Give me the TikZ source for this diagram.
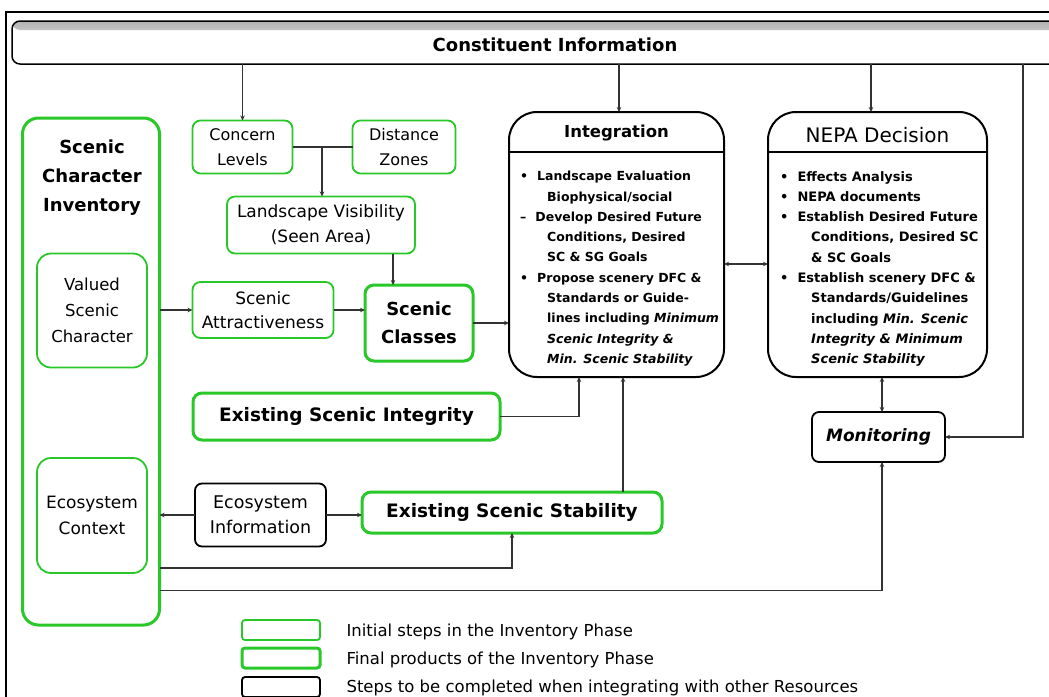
\documentclass[tikz,border=0pt]{standalone}
\usepackage{fontspec}
\setmainfont{DejaVu Sans}
\usetikzlibrary{arrows.meta}
\definecolor{grn}{RGB}{40,200,40}
\tikzset{
 base/.style={fill=white, align=center, inner sep=0pt, outer sep=0pt},
 initbox/.style={base, draw=grn, line width=1.8pt, rounded corners=8pt},
 finalbox/.style={base, draw=grn, line width=3pt, rounded corners=9pt},
 otherbox/.style={base, draw=black, line width=1.8pt, rounded corners=7pt},
 bigbox/.style={base, draw=black, line width=2pt, rounded corners=28pt},
 conn/.style={draw=black!80, line width=1.2pt},
 arr/.style={conn, -{Stealth[length=5pt,width=4.5pt]}},
 arrtwo/.style={conn, {Stealth[length=5pt,width=4.5pt]}-{Stealth[length=5pt,width=4.5pt]}},
 fs/.style={font=\fontsize{#1}{\dimexpr#1pt*5/4\relax}\selectfont},
 fsb/.style={font=\bfseries\fontsize{#1}{\dimexpr#1pt*5/4\relax}\selectfont},
}
\begin{document}
\begin{tikzpicture}[x=1pt,y=-1pt]
\clip (0,0) rectangle (1049,696);
\fill[white] (0,0) rectangle (1049,696);
% outer frame
\draw[line width=2.5pt] (6,720) -- (6,12) -- (1100,12);

% Constituent information
\node[base, draw=black, line width=1.5pt, rounded corners=8pt, minimum width=1048pt, minimum height=43pt,
  path picture={\shade[top color=black!30, bottom color=white] (path picture bounding box.north west) rectangle ([yshift=-9pt]path picture bounding box.north east);},
  anchor=north west] (ci) at (12,21) {};
\node[fsb=18] (citext) at (555,45) {Constituent Information};

% Inventory
\node[finalbox, rounded corners=16pt, minimum width=137pt, minimum height=507pt] (inv) at (91,371.5) {};
\node[align=center, font=\bfseries\fontsize{18}{29}\selectfont] (invtitle) at (92,178) {Scenic\\Character\\Inventory};
\node[initbox, rounded corners=14pt, minimum width=110pt, minimum height=114pt, font=\fontsize{16.5}{26}\selectfont] (vsc) at (92,310.5) {Valued\\Scenic\\Character};
\node[initbox, rounded corners=14pt, minimum width=110pt, minimum height=115pt, font=\fontsize{17}{26}\selectfont] (ec) at (92,515.5) {Ecosystem\\Context};

% upper left boxes
\node[initbox, minimum width=100pt, minimum height=53pt, font=\fontsize{16}{25}\selectfont] (cl) at (242.5,147) {Concern\\Levels};
\node[initbox, minimum width=103pt, minimum height=53pt, font=\fontsize{16}{25}\selectfont] (dz) at (404,147) {Distance\\Zones};
\node[initbox, minimum width=188pt, minimum height=57pt, font=\fontsize{17}{25}\selectfont] (lv) at (321,225) {Landscape Visibility\\(Seen Area)};
\node[initbox, minimum width=141pt, minimum height=56pt, font=\fontsize{17}{24}\selectfont] (sa) at (263,310) {Scenic\\Attractiveness};
\node[finalbox, minimum width=108pt, minimum height=76pt, font=\bfseries\fontsize{18}{28}\selectfont] (sc) at (419,323) {Scenic\\Classes};

\node[finalbox, minimum width=307pt, minimum height=47pt, fsb=18.5] (esi) at (346.5,416.5) {Existing Scenic Integrity};
\node[otherbox, minimum width=131pt, minimum height=63pt, font=\fontsize{17.5}{25}\selectfont] (ei) at (260.5,515) {Ecosystem\\Information};
\node[finalbox, minimum width=300pt, minimum height=41pt, fsb=18.5] (ess) at (512,512.5) {Existing Scenic Stability};

% Integration
\node[bigbox, minimum width=215pt, minimum height=265pt] (int) at (616.5,244.5) {};
\draw[line width=2pt] (int.west |- 0,152) -- (int.east |- 0,152);
\node[fsb=16.5] (inttitle) at (616.5,133) {Integration};
\node[anchor=north west, align=left, inner sep=0pt, font=\bfseries\fontsize{12.5}{20.3}\selectfont] (inttext) at (520,171) {%
•\hspace{9pt}Landscape Evaluation\\
\hspace*{27pt}Biophysical/social\\
–\hspace{9pt}Develop Desired Future\\
\hspace*{27pt}Conditions, Desired\\
\hspace*{27pt}SC \& SG Goals\\
•\hspace{9pt}Propose scenery DFC \&\\
\hspace*{27pt}Standards or Guide-\\
\hspace*{27pt}lines including \textit{Minimum}\\
\hspace*{27pt}\textit{Scenic Integrity \&}\\
\hspace*{27pt}\textit{Min. Scenic Stability}};

% NEPA
\node[bigbox, minimum width=219pt, minimum height=265pt] (nepa) at (877.5,244.5) {};
\draw[line width=2pt] (nepa.west |- 0,152) -- (nepa.east |- 0,152);
\node[fs=20] (nepatitle) at (877.5,135) {NEPA Decision};
\node[anchor=north west, align=left, inner sep=0pt, font=\bfseries\fontsize{13}{20.3}\selectfont] (nepatext) at (780,171) {%
•\hspace{9pt}Effects Analysis\\
•\hspace{9pt}NEPA documents\\
•\hspace{9pt}Establish Desired Future\\
\hspace*{31pt}Conditions, Desired SC\\
\hspace*{31pt}\& SC Goals\\
•\hspace{9pt}Establish scenery DFC \&\\
\hspace*{31pt}Standards/Guidelines\\
\hspace*{31pt}including \textit{Min. Scenic}\\
\hspace*{31pt}\textit{Integrity \& Minimum}\\
\hspace*{31pt}\textit{Scenic Stability}};

% Monitoring
\node[otherbox, minimum width=133pt, minimum height=50pt, font=\bfseries\itshape\fontsize{17}{20}\selectfont] (mon) at (878.5,437) {Monitoring};

% connectors from constituent info
\draw[arr] (cl.north |- ci.south) -- (cl.north);
\draw[arr] ([xshift=2.5pt]int.north |- ci.south) -- ([xshift=2.5pt]int.north);
\draw[arr] ([xshift=-6.5pt]nepa.north |- ci.south) -- ([xshift=-6.5pt]nepa.north);
\coordinate (rr) at (1023,64);
\draw[arr] (rr) -- (rr |- mon.east) -- (mon.east);

% upper left
\draw[conn] (cl.east) -- (dz.west);
\coordinate (jn) at (322,147);
\draw[arr] (jn) -- (jn |- lv.north);
\draw[arr] ([xshift=72pt]lv.south) -- ([xshift=72pt]lv.south |- sc.north);
\draw[arr] (inv.east |- sa.west) -- (sa.west);
\draw[arr] (sa.east) -- (sa.east -| sc.west);
\draw[arr] (sc.east) -- (sc.east -| int.west);
\draw[arrtwo] ([yshift=-19.5pt]int.east) -- ([yshift=-19.5pt]int.east -| nepa.west);

% lower
\draw[arr] (esi.east) -| ([xshift=-37.5pt]int.south);
\draw[arr] ([xshift=111pt]ess.north) -- ([xshift=111pt]ess.north |- int.south);
\draw[arr] (ei.west) -- (ei.west -| inv.east);
\draw[arr] (ei.east) -- (ei.east -| ess.west);
\draw[arr] ([yshift=-196.5pt]inv.east) -| (ess.south);
\draw[arr] ([yshift=-219pt]inv.east) -| ([xshift=3.5pt]mon.south);
\draw[arrtwo] ([xshift=4.5pt]nepa.south) -- ([xshift=4.5pt]nepa.south |- mon.north);

% legend
\node[initbox, rounded corners=3pt, minimum width=78pt, minimum height=20pt] (lg1) at (281,630) {};
\node[finalbox, rounded corners=3pt, minimum width=78pt, minimum height=20pt] (lg2) at (281,658) {};
\node[otherbox, rounded corners=3pt, minimum width=78pt, minimum height=20pt] (lg3) at (281,687) {};
\node[anchor=west, fs=16.5] (lt1) at (343,632) {Initial steps in the Inventory Phase};
\node[anchor=west, fs=16.5] (lt2) at (343,660) {Final products of the Inventory Phase};
\node[anchor=west, fs=16.5] (lt3) at (343,688) {Steps to be completed when integrating with other Resources};
\end{tikzpicture}
\end{document}
